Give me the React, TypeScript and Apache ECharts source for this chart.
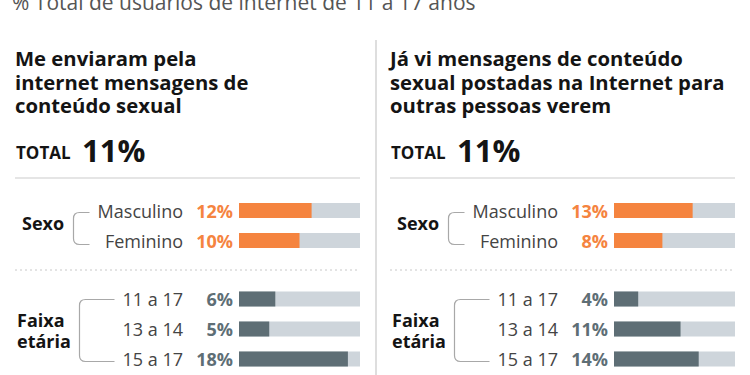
import React, { useEffect, useRef } from "react";
import * as echarts from "echarts";

const subtitle = "% Total de usuários de internet de 11 a 17 anos";
const panelTitles = [
  ["Me enviaram pela", "internet mensagens de", "conteúdo sexual"],
  ["Já vi mensagens de conteúdo", "sexual postadas na Internet para", "outras pessoas verem"],
];
const totals = [11, 11];
const categoriesSexo = ["Masculino", "Feminino"];
const categoriesFaixa = ["11 a 17", "13 a 14", "15 a 17"];
const enviaramSexo = [12, 10];
const enviaramFaixa = [6, 5, 18];
const viSexo = [13, 8];
const viFaixa = [4, 11, 14];
const scaleMax = 20;

const FONT = "'Open Sans', 'Noto Sans', sans-serif";
const ORANGE = "#f5843f";
const DARK = "#5e6e75";
const TRACK = "#ced5db";
const INK = "#141414";

echarts.graphic.registerShape(
  "bracket2",
  echarts.graphic.extendPath("M16 0 L6 0 Q0 0 0 6 L0 26 Q0 32 6 32 L16 32", {})
);
echarts.graphic.registerShape(
  "bracket3",
  echarts.graphic.extendPath("M35 0 L6 0 Q0 0 0 6 L0 56 Q0 62 6 62 L35 62", {})
);

export default function App() {
  const ref = useRef<HTMLDivElement>(null);
  useEffect(() => {
    if (!ref.current) return;
    const chart = echarts.init(ref.current, null, { renderer: "svg" });

    const grids: any[] = [];
    const xAxes: any[] = [];
    const yAxes: any[] = [];
    const series: any[] = [];
    const graphics: any[] = [];

    graphics.push({
      type: "text",
      x: 12,
      y: 12.5,
      style: {
        text: subtitle,
        font: `21px ${FONT}`,
        fill: "#555",
        verticalAlign: "bottom",
      },
    });
    graphics.push({
      type: "line",
      shape: { x1: 376, y1: 40, x2: 376, y2: 375 },
      style: { stroke: "#dedede", lineWidth: 2 },
    });

    const panels = [
      { sexo: enviaramSexo, faixa: enviaramFaixa },
      { sexo: viSexo, faixa: viFaixa },
    ];

    panels.forEach((p, i) => {
      const ox = i * 375;
      graphics.push({
        type: "text",
        x: ox + 15,
        y: 46.25,
        style: {
          text: panelTitles[i].join("\n"),
          font: `bold 20.3px ${FONT}`,
          lineHeight: 23.5,
          fill: INK,
          verticalAlign: "top",
        },
      });
      graphics.push({
        type: "text",
        x: ox + 16,
        y: 152,
        style: { text: "TOTAL", font: `bold 17px ${FONT}`, fill: INK, verticalAlign: "middle" },
      });
      graphics.push({
        type: "text",
        x: ox + 82,
        y: 149.5,
        style: { text: totals[i] + "%", font: `bold 31px ${FONT}`, fill: INK, verticalAlign: "middle" },
      });
      graphics.push({
        type: "line",
        shape: { x1: ox + 15, y1: 178, x2: ox + 360, y2: 178 },
        style: { stroke: "#dcdcdc", lineWidth: 1.5 },
      });
      graphics.push({
        type: "line",
        shape: { x1: ox + 15, y1: 270, x2: ox + 360, y2: 270 },
        style: { stroke: "#c8c8c8", lineWidth: 1, lineDash: [2, 3] },
      });
      graphics.push({
        type: "text",
        x: ox + 22,
        y: 223,
        style: { text: "Sexo", font: `bold 18px ${FONT}`, fill: INK, verticalAlign: "middle" },
      });
      graphics.push({
        type: "text",
        x: ox + 17,
        y: 330.5,
        style: {
          text: "Faixa\netária",
          font: `bold 18px ${FONT}`,
          lineHeight: 21,
          fill: INK,
          verticalAlign: "middle",
        },
      });
      graphics.push({
        type: "bracket2",
        x: ox + 73.5,
        y: 212.5,
        style: { stroke: "#a8a8a8", fill: "none", lineWidth: 1.2 },
      });
      graphics.push({
        type: "bracket3",
        x: ox + 79.5,
        y: 299.5,
        style: { stroke: "#a8a8a8", fill: "none", lineWidth: 1.2 },
      });

      const groups = [
        { cats: categoriesSexo, vals: p.sexo, top: 195.5, height: 60, color: ORANGE },
        { cats: categoriesFaixa, vals: p.faixa, top: 284, height: 90, color: DARK },
      ];
      groups.forEach((g) => {
        const idx = grids.length;
        grids.push({ left: ox + 239, width: 121, top: g.top, height: g.height });
        xAxes.push({ type: "value", gridIndex: idx, min: 0, max: scaleMax, show: false });
        yAxes.push({
          type: "category",
          gridIndex: idx,
          data: g.cats,
          inverse: true,
          axisLine: { show: false },
          axisTick: { show: false },
          splitLine: { show: false },
          axisLabel: { margin: 56, fontSize: 18, color: "#444", fontFamily: FONT },
        });
        series.push({
          type: "bar",
          xAxisIndex: idx,
          yAxisIndex: idx,
          data: g.vals,
          barWidth: 15,
          itemStyle: { color: g.color },
          showBackground: true,
          backgroundStyle: { color: TRACK },
          label: {
            show: true,
            position: "left",
            distance: 6,
            formatter: "{c}%",
            fontSize: 18,
            fontWeight: "bold",
            fontFamily: FONT,
            color: g.color,
          },
        });
      });
    });

    chart.setOption({
      animation: false,
      backgroundColor: "#ffffff",
      grid: grids,
      xAxis: xAxes,
      yAxis: yAxes,
      series,
      graphic: graphics,
    });
    return () => chart.dispose();
  }, []);
  return (
    <div
      ref={ref}
      style={{ position: "fixed", left: 0, top: 0, width: 750, height: 375 }}
    />
  );
}
